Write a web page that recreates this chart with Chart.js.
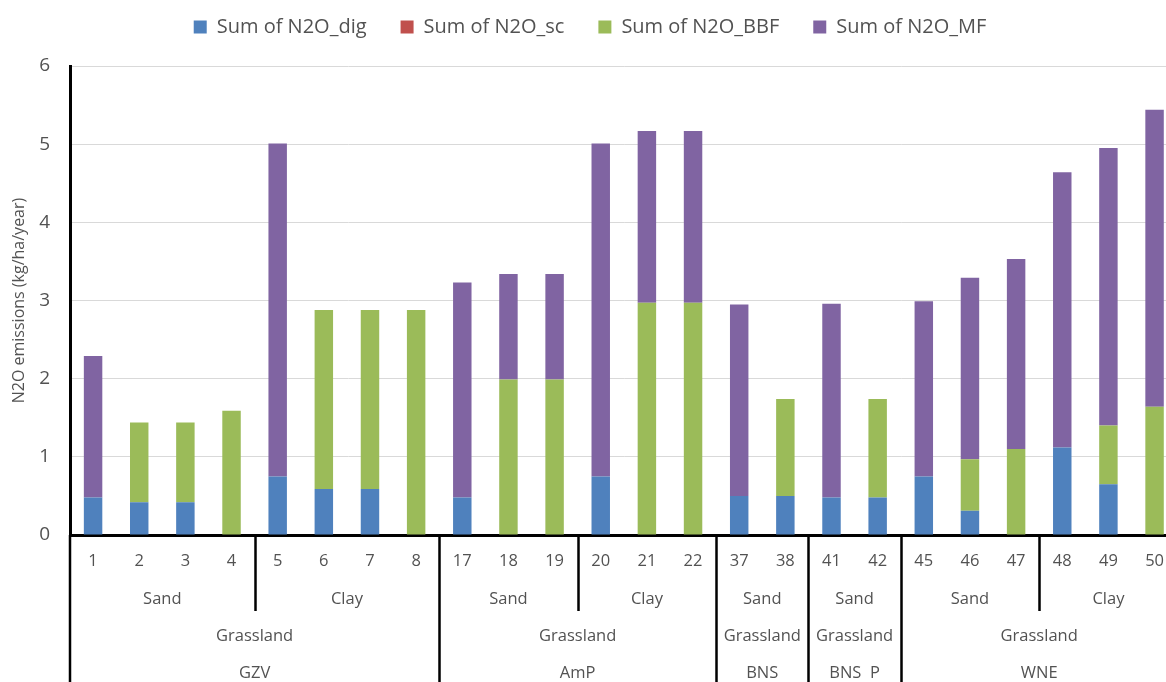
<!DOCTYPE html>
<html>
<head>
<meta charset="utf-8">
<script src="https://cdn.jsdelivr.net/npm/chart.js@4.4.1/dist/chart.umd.min.js"></script>
<style>
    html, body { margin: 0; padding: 0; background: #fff; overflow: hidden; }
    #wrap { width: 1180px; height: 682px; }
</style>
</head>
<body>
<div id="wrap"><canvas id="chart" width="1180" height="682"></canvas></div>
<script>
// plot numbers and their grouping (bottom axis levels)
const plots = ['1', '2', '3', '4', '5', '6', '7', '8', '17', '18', '19', '20', '21', '22', '37', '38', '41', '42', '45', '46', '47', '48', '49', '50'];
const soils = ['Sand', 'Sand', 'Sand', 'Sand', 'Clay', 'Clay', 'Clay', 'Clay', 'Sand', 'Sand', 'Sand', 'Clay', 'Clay', 'Clay', 'Sand', 'Sand', 'Sand', 'Sand', 'Sand', 'Sand', 'Sand', 'Clay', 'Clay', 'Clay'];
const landUses = ['Grassland', 'Grassland', 'Grassland', 'Grassland', 'Grassland', 'Grassland', 'Grassland', 'Grassland', 'Grassland', 'Grassland', 'Grassland', 'Grassland', 'Grassland', 'Grassland', 'Grassland', 'Grassland', 'Grassland', 'Grassland', 'Grassland', 'Grassland', 'Grassland', 'Grassland', 'Grassland', 'Grassland'];
const sites = ['GZV', 'GZV', 'GZV', 'GZV', 'GZV', 'GZV', 'GZV', 'GZV', 'AmP', 'AmP', 'AmP', 'AmP', 'AmP', 'AmP', 'BNS', 'BNS', 'BNS  P', 'BNS  P', 'WNE', 'WNE', 'WNE', 'WNE', 'WNE', 'WNE'];

// series values (kg/ha/year), stacked
const n2oDig = [0.48, 0.42, 0.42, 0, 0.75, 0.59, 0.59, 0, 0.48, 0, 0, 0.75, 0, 0, 0.50, 0.50, 0.48, 0.48, 0.75, 0.31, 0, 1.12, 0.65, 0];
const n2oSc = [0, 0, 0, 0, 0, 0, 0, 0, 0, 0, 0, 0, 0, 0, 0, 0, 0, 0, 0, 0, 0, 0, 0, 0];
const n2oBBF = [0, 1.02, 1.02, 1.59, 0, 2.29, 2.29, 2.88, 0, 1.99, 1.99, 0, 2.97, 2.97, 0, 1.24, 0, 1.26, 0, 0.66, 1.10, 0, 0.75, 1.64];
const n2oMF = [1.81, 0, 0, 0, 4.26, 0, 0, 0, 2.75, 1.35, 1.35, 4.26, 2.20, 2.20, 2.45, 0, 2.48, 0, 2.24, 2.32, 2.43, 3.52, 3.55, 3.80];

const textColor = '#525252';
const fontFamily = "'Open Sans', sans-serif";

// consecutive runs of identical keys -> [{label, start, end}]
function runs(keys, labels) {
    const out = [];
    keys.forEach((k, i) => {
        const last = out[out.length - 1];
        if (last && last.key === k) {
            last.end = i;
        } else {
            out.push({ key: k, label: labels[i], start: i, end: i });
        }
    });
    return out;
}

const groupAxis = {
    id: 'groupAxis',
    afterDraw(chart) {
        const ctx = chart.ctx;
        const xs = chart.scales.x;
        const area = chart.chartArea;
        const bottom = chart.height;
        const half = (xs.getPixelForValue(1) - xs.getPixelForValue(0)) / 2;
        const edge = i => xs.getPixelForValue(i) - half;

        ctx.save();
        ctx.fillStyle = textColor;
        ctx.font = '16.5px ' + fontFamily;
        ctx.textAlign = 'center';
        ctx.textBaseline = 'middle';

        const soilRuns = runs(sites.map((s, i) => s + '|' + soils[i]), soils);
        const landRuns = runs(sites.map((s, i) => s + '|' + landUses[i]), landUses);
        const siteRuns = runs(sites, sites);

        soilRuns.forEach(r => ctx.fillText(r.label, (edge(r.start) + edge(r.end + 1)) / 2, area.bottom + 64));
        landRuns.forEach(r => ctx.fillText(r.label, (edge(r.start) + edge(r.end + 1)) / 2, area.bottom + 101));
        siteRuns.forEach(r => ctx.fillText(r.label, (edge(r.start) + edge(r.end + 1)) / 2, area.bottom + 138));

        // separators
        ctx.strokeStyle = '#000';
        ctx.lineWidth = 2.5;
        ctx.beginPath();
        ctx.moveTo(area.left, area.bottom);
        ctx.lineTo(area.left, bottom);
        for (let i = 1; i < plots.length; i++) {
            const x = Math.round(edge(i)) + 0.5;
            if (sites[i] !== sites[i - 1]) {
                ctx.moveTo(x, area.bottom);
                ctx.lineTo(x, bottom);
            } else if (soils[i] !== soils[i - 1]) {
                ctx.moveTo(x, area.bottom);
                ctx.lineTo(x, area.bottom + 76);
            }
        }
        ctx.stroke();
        ctx.restore();
    }
};

const legendBox = {
    id: 'legendBox',
    beforeInit(chart) {
        const lg = chart.legend;
        const fit = lg.fit;
        lg.fit = function () {
            fit.call(this);
            this.height = 66;
        };
    },
    afterLayout(chart) {
        chart.legend.top -= 17;
        chart.legend.bottom -= 17;
    }
};

const ctx = document.getElementById('chart');
const chart = new Chart(ctx, {
    type: 'bar',
    data: {
        labels: plots,
        datasets: [
            { label: 'Sum of N2O_dig', data: n2oDig, backgroundColor: '#4F81BD' },
            { label: 'Sum of N2O_sc', data: n2oSc, backgroundColor: '#C0504D' },
            { label: 'Sum of N2O_BBF', data: n2oBBF, backgroundColor: '#9BBB59' },
            { label: 'Sum of N2O_MF', data: n2oMF, backgroundColor: '#8064A2' }
        ]
    },
    options: {
        responsive: false,
        animation: false,
        devicePixelRatio: 1,
        barPercentage: 0.4,
        categoryPercentage: 1,
        layout: { padding: 0 },
        plugins: {
            legend: {
                position: 'top',
                labels: {
                    boxWidth: 13,
                    boxHeight: 13,
                    color: textColor,
                    font: { family: fontFamily, size: 20 },
                    padding: 34
                }
            },
            tooltip: { enabled: false }
        },
        scales: {
            x: {
                stacked: true,
                grid: { display: false, drawTicks: false },
                border: { color: '#000', width: 3 },
                ticks: {
                    color: textColor,
                    font: { family: fontFamily, size: 16.5 },
                    padding: 16,
                    autoSkip: false,
                    maxRotation: 0
                },
                afterFit(scale) {
                    scale.height = 147;
                }
            },
            y: {
                stacked: true,
                min: 0,
                max: 6,
                grid: { color: '#d9d9d9', drawTicks: false },
                border: { color: '#000', width: 3 },
                ticks: {
                    stepSize: 1,
                    color: textColor,
                    font: { family: fontFamily, size: 19 },
                    padding: 20
                },
                title: {
                    display: true,
                    text: 'N2O emissions (kg/ha/year)',
                    color: textColor,
                    font: { family: fontFamily, size: 16 },
                    padding: { top: 10, bottom: 0 }
                },
                afterFit(scale) {
                    scale.width = 70;
                }
            }
        }
    },
    plugins: [legendBox, groupAxis]
});
</script>
</body>
</html>
